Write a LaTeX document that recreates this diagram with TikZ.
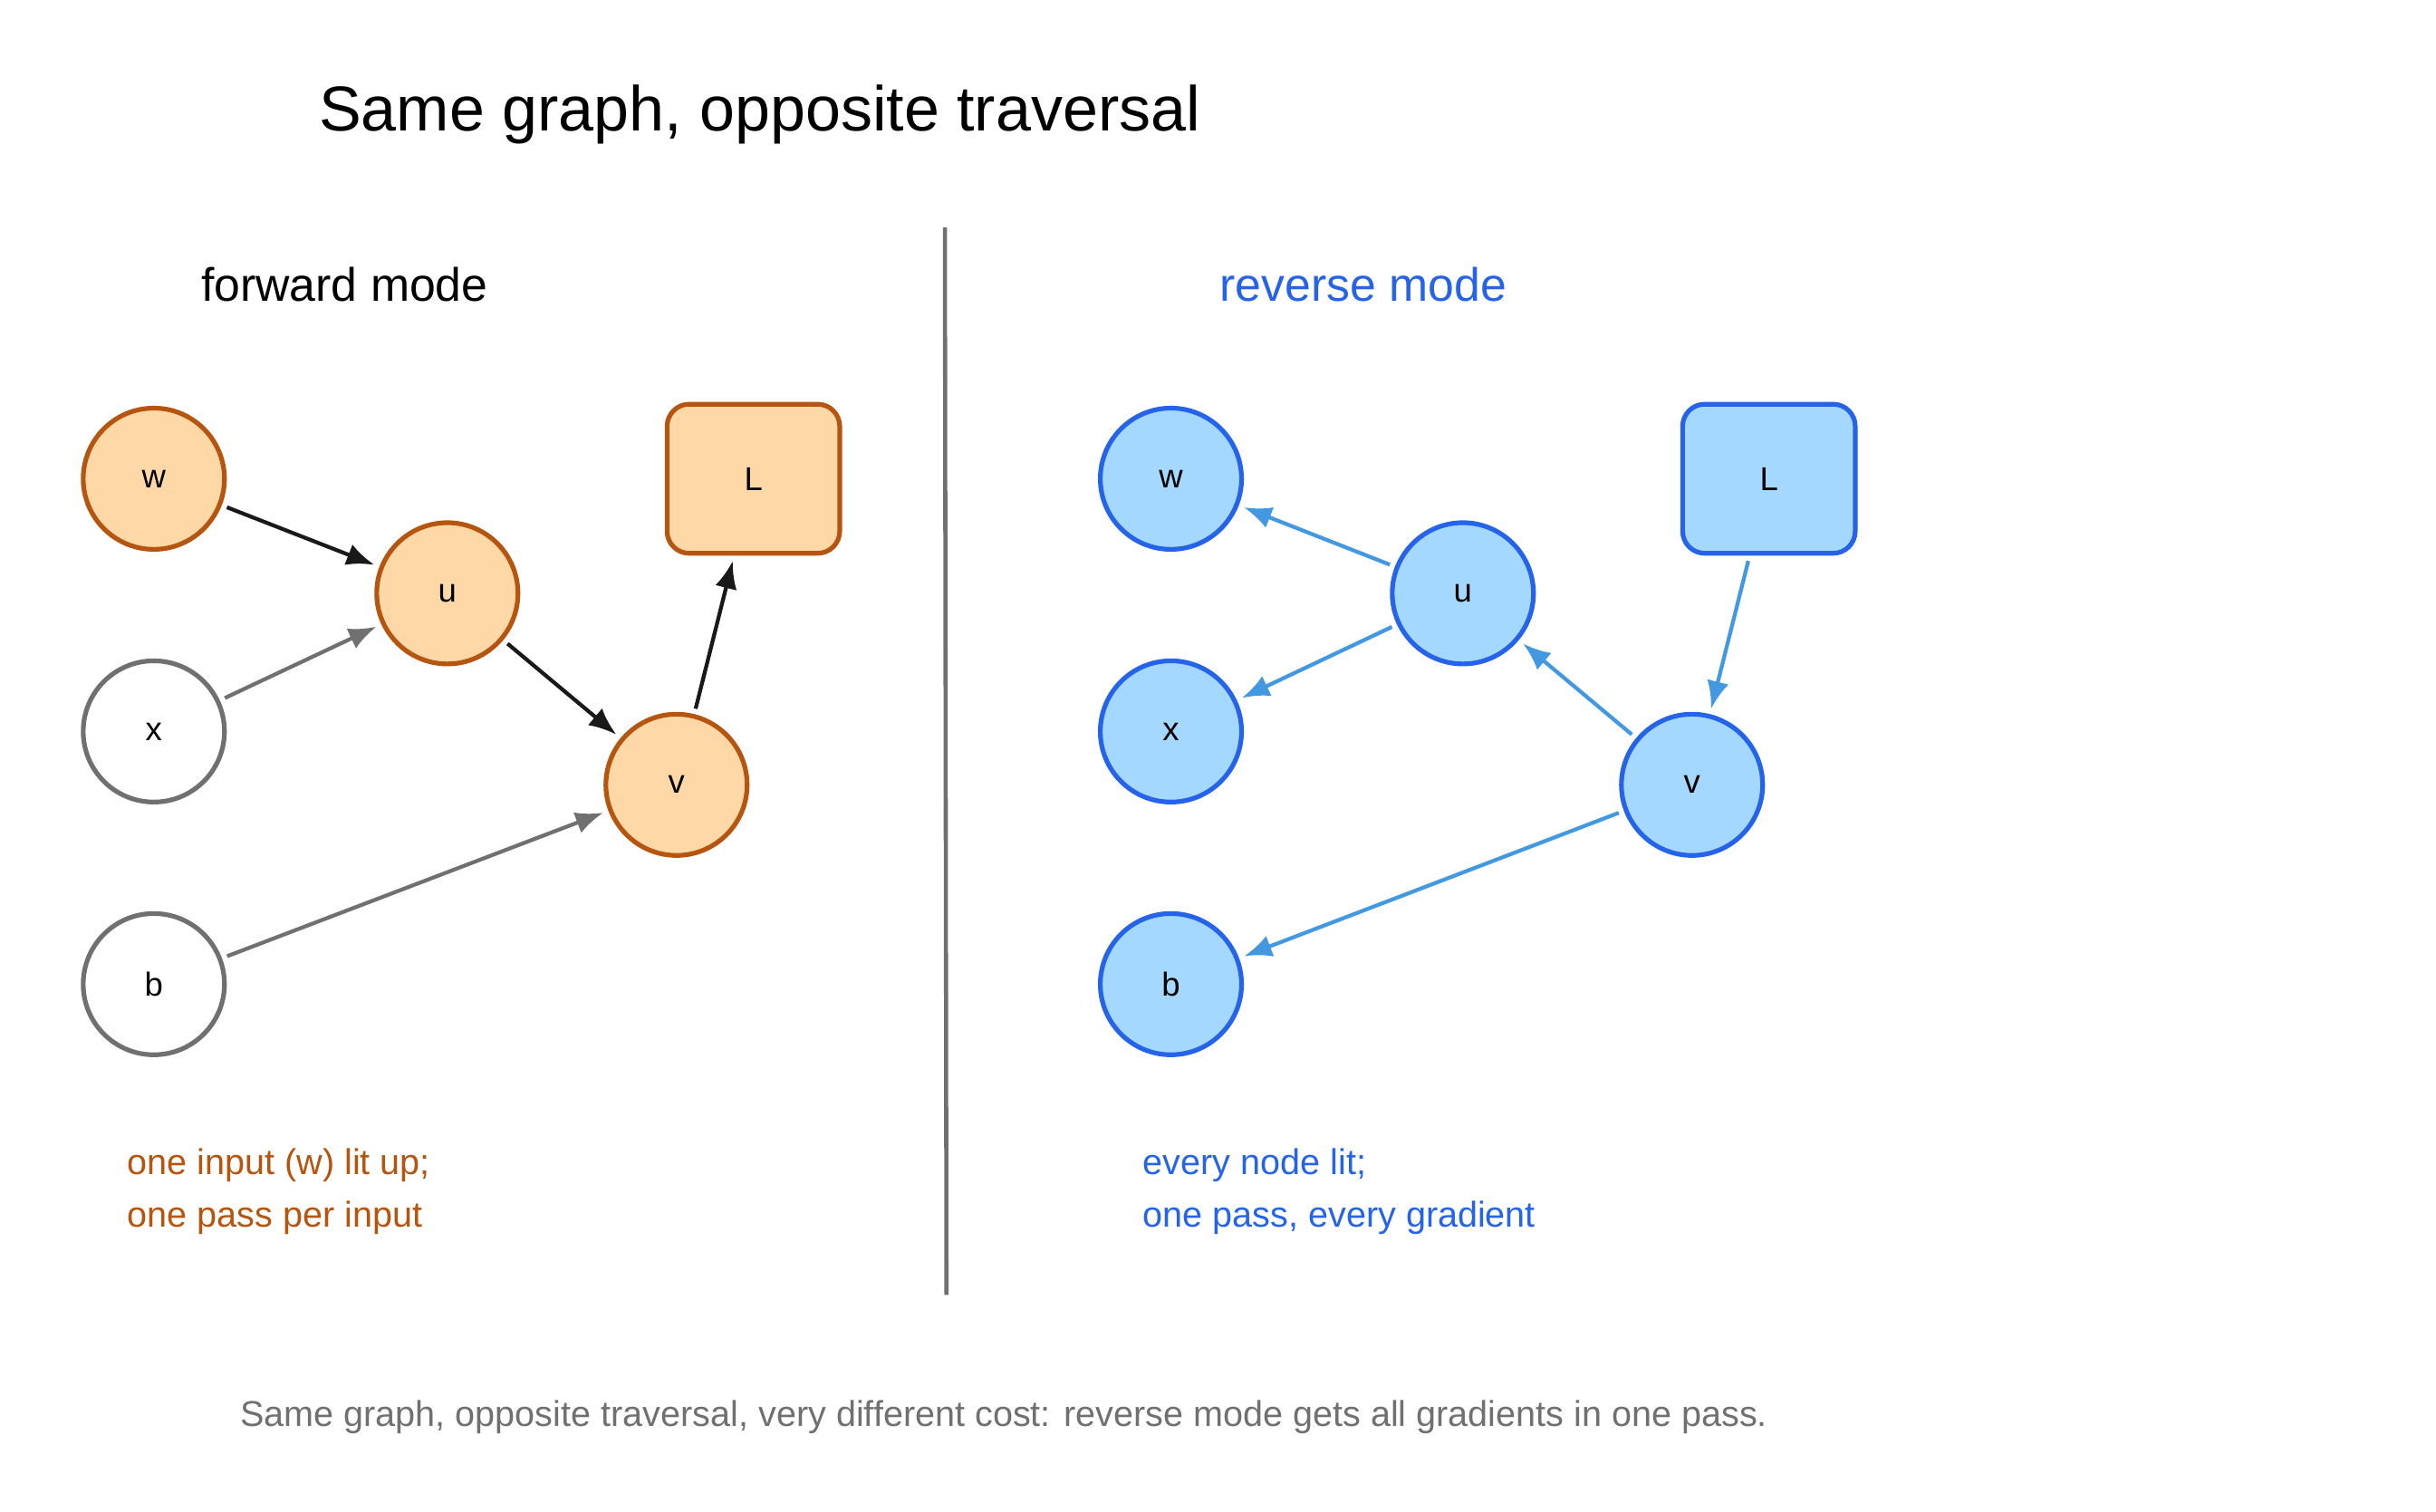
\documentclass[tikz,border=0pt]{standalone}
\usepackage{fontspec}
\setmainfont{Liberation Sans}
\usetikzlibrary{arrows.meta}
\definecolor{orfill}{HTML}{FFD8A8}
\definecolor{ordraw}{HTML}{B5550F}
\definecolor{blfill}{HTML}{A5D8FF}
\definecolor{bldraw}{HTML}{2563EB}
\definecolor{blarrow}{HTML}{4299E1}
\definecolor{grey}{HTML}{707070}
\begin{document}
\begin{tikzpicture}[x=0.02cm,y=-0.02cm,
		op/.style = {circle, minimum size=1.8cm, line width=1.7pt, font=\fontsize{12}{14}\selectfont},
		loss/.style = {rectangle, rounded corners=8pt, minimum width=2.2cm, minimum height=1.9cm, line width=1.7pt, font=\fontsize{12}{14}\selectfont},
		lit/.style = {draw=ordraw, fill=orfill},
		dim/.style = {draw=grey, fill=white},
		rev/.style = {draw=bldraw, fill=blfill},
		edge/.style = {-{Latex[length=10pt,width=8pt]}, line width=1.4pt, shorten >=2pt, shorten <=2pt}]
		\useasboundingbox (0,0) rectangle (1552,963);
		
		\node [font=\fontsize{23}{26}\selectfont, anchor=west] (title) at (197,73) {Same graph, opposite traversal};
		\draw [grey, line width=1.5pt] (602,145) -- (603,825);
		
		% forward mode
		\node [font=\fontsize{17}{20}\selectfont, anchor=west] (fwdlabel) at (122,181) {forward mode};
		\node [op, lit] (fw) at (98,305) {w};
		\node [op, dim] (fx) at (98,466) {x};
		\node [op, dim] (fb) at (98,627) {b};
		\node [op, lit] (fu) at (285,378) {u};
		\node [op, lit] (fv) at (431,500) {v};
		\node [loss, lit] (fL) at (480,305) {L};
		\draw [edge, black!90] (fw) -- (fu);
		\draw [edge, grey] (fx) -- (fu);
		\draw [edge, black!90] (fu) -- (fv);
		\draw [edge, black!90] (fv) -- (fL);
		\draw [edge, grey] (fb) -- (fv);
		\node [ordraw, font=\fontsize{13}{16}\selectfont, anchor=west, align=left] (fwdnote) at (75,759) {one input (w) lit up;\\[3pt]one pass per input};
		
		% reverse mode
		\node [bldraw, font=\fontsize{17}{20}\selectfont, anchor=west] (revlabel) at (771,181) {reverse mode};
		\node [op, rev] (rw) at (746,305) {w};
		\node [op, rev] (rx) at (746,466) {x};
		\node [op, rev] (rb) at (746,627) {b};
		\node [op, rev] (ru) at (932,378) {u};
		\node [op, rev] (rv) at (1078,500) {v};
		\node [loss, rev] (rL) at (1127,305) {L};
		\draw [edge, blarrow] (ru) -- (rw);
		\draw [edge, blarrow] (ru) -- (rx);
		\draw [edge, blarrow] (rv) -- (ru);
		\draw [edge, blarrow] (rL) -- (rv);
		\draw [edge, blarrow] (rv) -- (rb);
		\node [bldraw, font=\fontsize{13}{16}\selectfont, anchor=west, align=left] (revnote) at (722,759) {every node lit;\\[3pt]one pass, every gradient};
		
		\node [grey, font=\fontsize{13}{16}\selectfont, anchor=west] (caption) at (147,903) {Same graph, opposite traversal, very different cost: reverse mode gets all gradients in one pass.};
	\end{tikzpicture}
\end{document}
